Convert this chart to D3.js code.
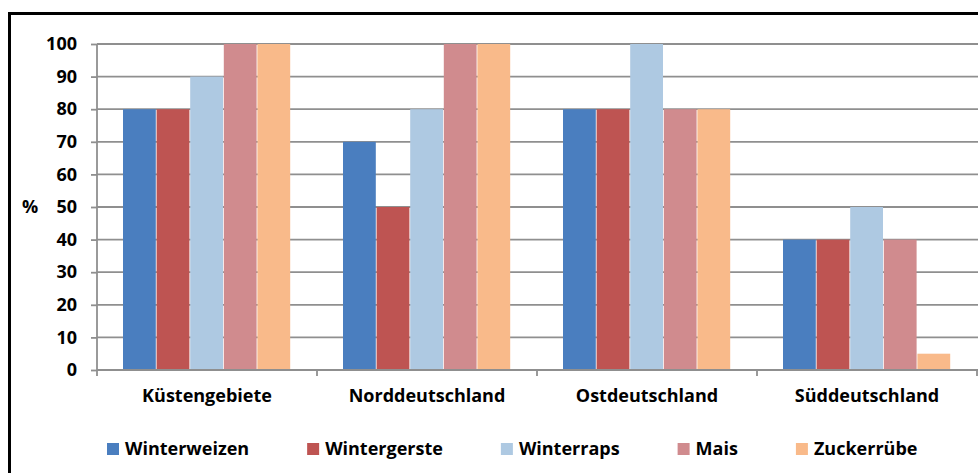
<!DOCTYPE html>
<html><head><meta charset="utf-8">
<script src="https://cdn.jsdelivr.net/npm/d3@7"></script>
<style>body{margin:0;background:#fff}svg{display:block}text{font-family:"Open Sans",Lato,sans-serif;font-weight:bold;fill:#000}</style>
</head><body><svg id="c" width="978" height="473"></svg>
<script>
const categories = ["Küstengebiete","Norddeutschland","Ostdeutschland","Süddeutschland"];
const seriesNames = ["Winterweizen","Wintergerste","Winterraps","Mais","Zuckerrübe"];
const Winterweizen = [80,70,80,40];
const Wintergerste = [80,50,80,40];
const Winterraps = [90,80,100,50];
const Mais = [100,100,80,40];
const Zuckerruebe = [100,100,80,5];
const yTicks = [0,10,20,30,40,50,60,70,80,90,100];
const colors = ["#4A7EBF","#BE5452","#AEC9E2","#D08B8E","#F9BA8A"];
const seriesValues = [Winterweizen,Wintergerste,Winterraps,Mais,Zuckerruebe];

const FONT = "Open Sans";
const FS = 18;
const svg = d3.select("#c");
const plot = {l:97, r:977, t:44, b:370};
const x0 = d3.scaleBand().domain(categories).range([plot.l, plot.r]);
const groupPad = 26;
const x1 = d3.scaleBand().domain(seriesNames).range([groupPad, x0.bandwidth()-groupPad]);
const y = d3.scaleLinear().domain([0,100]).range([plot.b, plot.t]);

// frame
svg.append("rect").attr("x",9.5).attr("y",13.5).attr("width",1000).attr("height",1000)
  .attr("fill","none").attr("stroke","#000").attr("stroke-width",3);

// gridlines
svg.append("g").selectAll("line").data(yTicks.filter(d=>d>0)).join("line")
  .attr("x1",plot.l).attr("x2",plot.r+10).attr("y1",d=>y(d)).attr("y2",d=>y(d))
  .attr("stroke","#8f8f8f").attr("stroke-width",1.8);

// bars
const g = svg.append("g");
categories.forEach((c,ci)=>{
  seriesNames.forEach((s,si)=>{
    const v = seriesValues[si][ci];
    g.append("rect").attr("x",x0(c)+x1(s)).attr("width",x1.bandwidth()-0.8)
      .attr("y",y(v)).attr("height",y(0)-y(v)).attr("fill",colors[si]);
  });
});

// y axis
const yAxis = d3.axisLeft(y).tickValues(yTicks).tickSize(6).tickPadding(14).tickFormat(d3.format("d"));
const ya = svg.append("g").attr("transform",`translate(${plot.l},0)`).call(yAxis);
ya.select(".domain").attr("stroke","#8f8f8f").attr("stroke-width",1.8).attr("d",`M0,${plot.t}V${plot.b}`);
ya.selectAll(".tick line").attr("stroke","#8f8f8f").attr("stroke-width",1.8);
ya.selectAll(".tick text").attr("font-size",FS).attr("font-family",FONT).attr("font-weight","bold").attr("fill","#000");

// x axis
const xAxis = d3.axisBottom(x0).tickSize(0).tickPadding(19);
const xa = svg.append("g").attr("transform",`translate(0,${plot.b})`).call(xAxis);
xa.select(".domain").attr("stroke","#8f8f8f").attr("stroke-width",1.8).attr("d",`M${plot.l},0H${plot.r+10}`);
xa.selectAll(".tick text").attr("font-size",FS).attr("font-family",FONT).attr("font-weight","bold").attr("fill","#000");
// category boundary ticks
svg.append("g").selectAll("line").data(categories.concat([null])).join("line")
  .attr("x1",(d,i)=> i<categories.length ? x0(d) : plot.r).attr("x2",(d,i)=> i<categories.length ? x0(d) : plot.r)
  .attr("y1",plot.b).attr("y2",plot.b+6).attr("stroke","#8f8f8f").attr("stroke-width",1.8);

// y title
svg.append("text").attr("x",30).attr("y",y(50)).attr("dy","0.35em").attr("text-anchor","middle")
  .attr("font-size",FS).text("%");

// legend
const leg = svg.append("g");
let lx = 107;
seriesNames.forEach((s,i)=>{
  leg.append("rect").attr("x",lx).attr("y",443).attr("width",12).attr("height",12).attr("fill",colors[i]);
  const t = leg.append("text").attr("x",lx+18).attr("y",449).attr("dy","0.36em").attr("font-size",FS).text(s);
  lx += 18 + t.node().getComputedTextLength() + 58;
});
</script></body></html>
